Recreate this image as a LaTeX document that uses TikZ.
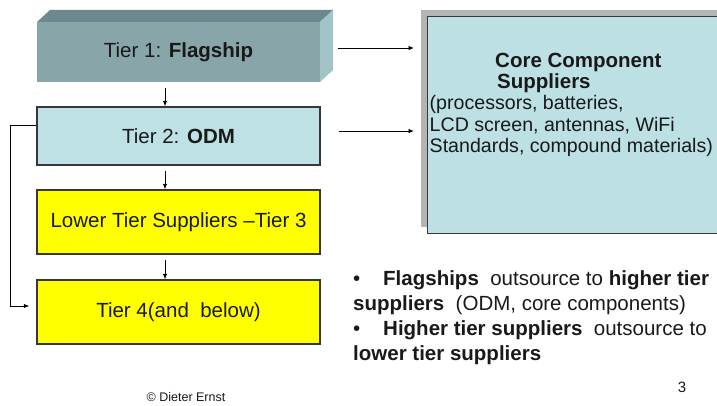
\documentclass[tikz,border=0pt]{standalone}
\usepackage{fontspec}
\setmainfont{Liberation Sans}
\usetikzlibrary{arrows.meta}
\definecolor{tonefront}{RGB}{136,166,169}
\definecolor{tonetop}{RGB}{108,138,141}
\definecolor{toneside}{RGB}{162,196,199}
\definecolor{lightblue}{RGB}{190,225,230}
\definecolor{corefill}{RGB}{188,224,227}
\definecolor{boxyellow}{RGB}{255,255,0}
\definecolor{shadowgray}{RGB}{180,180,180}
\definecolor{edgegray}{RGB}{55,55,55}
\definecolor{txt}{RGB}{25,25,25}
\begin{document}
\begin{tikzpicture}[x=1pt,y=-1pt,
  tierbox/.style={draw=edgegray,line width=1.3pt,minimum width=283pt,inner sep=0pt,text=txt,font=\fontsize{20.5}{24}\selectfont},
  arr/.style={-{Latex[length=5.5pt,width=4.5pt]},line width=0.9pt,black},
  bodytext/.style={anchor=base west,inner sep=0pt,text=txt,font=\fontsize{19.6}{24}\selectfont},
  bullettext/.style={anchor=base west,inner sep=0pt,text=txt,font=\fontsize{20.5}{24}\selectfont}]
\useasboundingbox (0,0) rectangle (717,406);
\fill[white] (0,0) rectangle (717,406);
% Tier 1 3D block
\fill[tonetop] (37,22) -- (50,10) -- (333,10) -- (320,22) -- cycle;
\fill[toneside] (320,22) -- (333,10) -- (333,70) -- (320,82) -- cycle;
\node[fill=tonefront,minimum width=283pt,minimum height=60pt,inner sep=0pt,text=txt,font=\fontsize{20.5}{24}\selectfont] (t1) at (178.5,52) {Tier 1: \textbf{Flagship}};
% Tier 2-4
\node[tierbox,fill=lightblue,minimum height=58pt] (t2) at (178.5,136) {Tier 2: \textbf{ODM}};
\node[tierbox,fill=boxyellow,minimum height=64pt] (t3) at (178.5,222) {Lower Tier Suppliers \textendash Tier 3};
\node[tierbox,fill=boxyellow,minimum height=64pt] (t4) at (178.5,312) {Tier 4(and\ \ below)};
% Core box
\fill[shadowgray] (421,10) rectangle (725,227);
\node[draw=edgegray,fill=corefill,line width=1.3pt,anchor=north west,minimum width=300pt,minimum height=217pt,inner sep=0pt] (core) at (427,16) {};
\node[bodytext,font=\bfseries\fontsize{20.5}{24}\selectfont] (c1) at (495,68) {Core Component};
\node[bodytext,font=\bfseries\fontsize{20.5}{24}\selectfont] (c2) at (497,89) {Suppliers};
\node[bodytext] (c3) at (429.5,110) {(processors, batteries,};
\node[bodytext] (c4) at (429.5,131.5) {LCD screen, antennas, WiFi};
\node[bodytext] (c5) at (429.5,153) {Standards, compound materials)};
% Vertical arrows
\draw[arr] ([xshift=-13.5pt,yshift=-6pt]t1.south) -- ([xshift=-13.5pt]t2.north);
\draw[arr] ([xshift=-13.5pt,yshift=-5pt]t2.south) -- ([xshift=-13.5pt]t3.north);
\draw[arr] ([xshift=-13.5pt,yshift=-5pt]t3.south) -- ([xshift=-13.5pt]t4.north);
% Right arrows
\coordinate (a1s) at ([xshift=18pt,yshift=4pt]t1.east);
\coordinate (a2s) at ([xshift=18pt,yshift=5pt]t2.east);
\draw[arr] (a1s) -- ([xshift=-13pt]core.west |- a1s);
\draw[arr] (a2s) -- ([xshift=-13pt]core.west |- a2s);
% Left connector
\draw[arr] ([yshift=11pt]t2.west) -- ++(-26,0) |- ([xshift=-7pt,yshift=6pt]t4.west);
% Bullets
\node[bullettext] (b1) at (353,285) {\makebox[30pt][l]{\textbullet}\textbf{Flagships}\ \ outsource to \textbf{higher tier}};
\node[bullettext] (b2) at (353,310) {\textbf{suppliers}\ \ (ODM, core components)};
\node[bullettext] (b3) at (353,335.5) {\makebox[30pt][l]{\textbullet}\textbf{Higher tier suppliers}\ \ outsource to};
\node[bullettext] (b4) at (353,360) {\textbf{lower tier suppliers}};
% Footer
\node[text=txt,font=\fontsize{15}{18}\selectfont,inner sep=0pt] (pg) at (682,387) {3};
\node[text=txt,font=\fontsize{12.5}{15}\selectfont,inner sep=0pt] (cr) at (186,397) {\textcopyright\ Dieter Ernst};
\end{tikzpicture}
\end{document}
